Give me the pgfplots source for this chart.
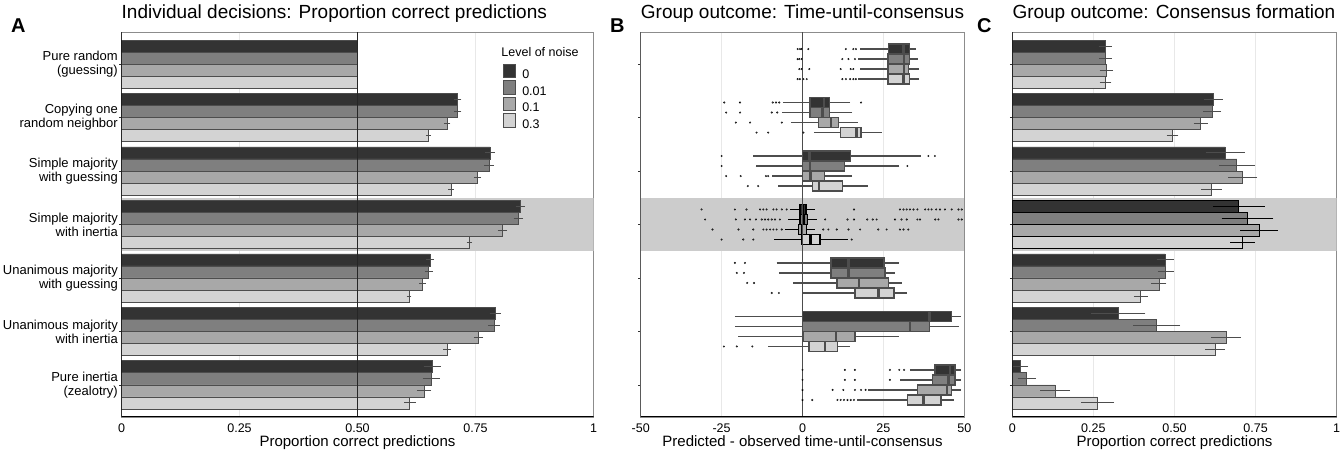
\documentclass[border=0pt]{standalone}
\usepackage{fontspec}
\setmainfont{Liberation Sans}
\usepackage{pgfplots}
\pgfplotsset{compat=1.18}
\usepgfplotslibrary{statistics}

\definecolor{n0}{HTML}{333333}
\definecolor{n1}{HTML}{7F7F7F}
\definecolor{n2}{HTML}{A8A8A8}
\definecolor{n3}{HTML}{D3D3D3}
\definecolor{edge}{HTML}{4D4D4D}
\definecolor{band}{HTML}{CCCCCC}

\pgfplotsset{
  panel/.style={
    scale only axis, height=385pt,
    ymin=0.4, ymax=7.6, ytick={1,...,7},
    axis line style={draw=black!45, line width=0.5pt},
    xmajorgrids, grid style={draw=black!9, line width=0.7pt},
    tick align=outside, major tick length=2.5pt,
    ytick style={black!80, line width=0.6pt}, xtick style={draw=none},
    xtick pos=bottom, ytick pos=left,
    xticklabel style={font=\fontsize{12.5}{14}\selectfont, inner sep=0pt, anchor=base, yshift=-13pt},
    xlabel style={font=\fontsize{15}{17}\selectfont, at={(axis description cs:0.5,0)},
      anchor=base, yshift=-29.5pt, inner sep=0pt},
    title style={font=\fontsize{19}{22}\selectfont, at={(axis description cs:0,1)},
      anchor=base west, yshift=7pt, inner sep=0pt},
  },
  hbar/.style={xbar, bar width=0.225, bar shift=0pt, fill=#1, line width=0.8pt,
    error bars/x dir=both, error bars/x explicit, error bars/error mark=none},
  ebar/.style={error bars/error bar style={#1, line width=1pt}},
}

% horizontal box: position, fill, border, lower whisker, q1, median, q3, upper whisker
\newcommand{\bx}[8]{\addplot[boxplot prepared={draw direction=x, draw position=#1,
    lower whisker=#4, lower quartile=#5, median=#6, upper quartile=#7, upper whisker=#8,
    box extend=0.1875, whisker extend=0}, fill=#2, draw=#3, line width=1.4pt,
    boxplot/every box/.style={line width=1.4pt},
    boxplot/every whisker/.style={line width=1.6pt},
    boxplot/every median/.style={line width=2.6pt}] coordinates {};}

\newcommand{\outl}{\addplot[only marks, mark=*, mark size=0.8pt,
    mark options={draw=none, fill=black!35, fill opacity=0.55}]}

\begin{document}
\begin{tikzpicture}[x=1pt,y=1pt]
\useasboundingbox (0,0) rectangle (1344,452);

\node[font=\bfseries\fontsize{20}{24}\selectfont, anchor=base west, inner sep=0pt] at (11,419) {A};
\node[font=\bfseries\fontsize{20}{24}\selectfont, anchor=base west, inner sep=0pt] at (610,419) {B};
\node[font=\bfseries\fontsize{20}{24}\selectfont, anchor=base west, inner sep=0pt] at (977,419) {C};

% ---------------- A ----------------
\begin{axis}[panel, at={(121.5pt,35pt)}, anchor=south west, width=472pt,
  xmin=0, xmax=1, xtick={0,0.25,0.5,0.75,1}, xticklabels={0,0.25,0.50,0.75,1},
  yticklabels={{Pure inertia\\(zealotry)},{Unanimous majority\\with inertia},
    {Unanimous majority\\with guessing},{Simple majority\\with inertia},
    {Simple majority\\with guessing},{Copying one\\random neighbor},
    {Pure random\\(guessing)}},
  yticklabel style={align=right, inner sep=0pt, xshift=-1pt, font=\fontsize{13}{14}\selectfont},
  title={Individual decisions: Proportion correct predictions},
  xlabel={Proportion correct predictions},
  legend image code/.code={\draw[#1] (0pt,-2.2pt) rectangle (12.3pt,11.1pt);},
  legend style={draw=none, fill=none, at={(0.8076,0.917)}, anchor=north west,
    inner sep=0pt, outer sep=0pt, row sep=0pt, column sep=6.7pt,
    nodes={inner sep=0pt}, font=\fontsize{12.5}{14}\selectfont},
  legend cell align=left]
\addlegendimage{fill=n0, draw=edge, line width=0.6pt}
\addlegendimage{fill=n1, draw=edge, line width=0.6pt}
\addlegendimage{fill=n2, draw=edge, line width=0.6pt}
\addlegendimage{fill=n3, draw=edge, line width=0.6pt}
\legend{0,0.01,0.1,0.3}

\addplot[draw=none, fill=band, forget plot] coordinates {(0,3.5) (1,3.5) (1,4.5) (0,4.5)};

\addplot[hbar=n0, draw=edge, ebar=edge] coordinates {
  (0.500,7.3375) +- (0,0) (0.712,6.3375) +- (0.008,0) (0.781,5.3375) +- (0.010,0)
  (0.845,4.3375) +- (0.010,0) (0.654,3.3375) +- (0.008,0) (0.792,2.3375) +- (0.012,0)
  (0.658,1.3375) +- (0.018,0)};
\addplot[hbar=n1, draw=edge, ebar=edge] coordinates {
  (0.500,7.1125) +- (0,0) (0.712,6.1125) +- (0.008,0) (0.779,5.1125) +- (0.010,0)
  (0.841,4.1125) +- (0.010,0) (0.651,3.1125) +- (0.008,0) (0.789,2.1125) +- (0.012,0)
  (0.656,1.1125) +- (0.018,0)};
\addplot[hbar=n2, draw=edge, ebar=edge] coordinates {
  (0.500,6.8875) +- (0,0) (0.690,5.8875) +- (0.007,0) (0.754,4.8875) +- (0.008,0)
  (0.807,3.8875) +- (0.010,0) (0.638,2.8875) +- (0.007,0) (0.756,1.8875) +- (0.010,0)
  (0.641,0.8875) +- (0.015,0)};
\addplot[hbar=n3, draw=edge, ebar=edge] coordinates {
  (0.500,6.6625) +- (0,0) (0.650,5.6625) +- (0.005,0) (0.698,4.6625) +- (0.006,0)
  (0.737,3.6625) +- (0.006,0) (0.609,2.6625) +- (0.005,0) (0.690,1.6625) +- (0.008,0)
  (0.611,0.6625) +- (0.012,0)};

\addplot[black!85, line width=0.8pt, forget plot] coordinates {(0.5,0.4) (0.5,7.6)};
\node[anchor=west, inner sep=0pt, font=\fontsize{12.5}{14}\selectfont] at (axis description cs:0.8045,0.949) {Level of noise};
\draw[black, line width=1.1pt] (rel axis cs:0,1) -- (rel axis cs:0,0) -- (rel axis cs:1,0);
\end{axis}

% ---------------- B ----------------
\begin{axis}[panel, at={(640.7pt,35pt)}, anchor=south west, width=323.6pt,
  xmin=-50, xmax=50, xtick={-50,-25,0,25,50}, xticklabels={-50,-25,0,25,50},
  yticklabels={},
  title={Group outcome: Time-until-consensus},
  xlabel={Predicted - observed time-until-consensus}]
\addplot[draw=none, fill=band] coordinates {(-50,3.5) (50,3.5) (50,4.5) (-50,4.5)};

% Pure random (guessing)
\outl coordinates {(-1.5,7.28125) (-0.8,7.28125) (-0.3,7.28125) (1.8,7.28125) (13.4,7.28125) (15.7,7.28125) (16.5,7.28125)
  (-1.5,7.09375) (-1.0,7.09375) (-0.3,7.09375) (12.3,7.09375) (14.2,7.09375) (16.2,7.09375)
  (-1.0,6.90625) (-0.3,6.90625) (2.1,6.90625) (11.8,6.90625) (14.9,6.90625) (15.7,6.90625)
  (-1.5,6.71875) (-0.8,6.71875) (0.3,6.71875) (1.3,6.71875) (12.3,6.71875) (13.4,6.71875) (14.7,6.71875) (15.7,6.71875) (16.5,6.71875)};
\bx{7.28125}{n0}{edge}{17.8}{26.6}{31.2}{33.0}{35.1}
\bx{7.09375}{n1}{edge}{17.3}{26.4}{31.4}{33.0}{35.6}
\bx{6.90625}{n2}{edge}{17.8}{26.4}{31.4}{32.7}{36.0}
\bx{6.71875}{n3}{edge}{17.3}{26.4}{31.2}{33.0}{36.0}

% Copying one random neighbor
\outl coordinates {(-24.2,6.28125) (-19.3,6.28125) (-9.2,6.28125) (-8.2,6.28125) (-7.2,6.28125) (18.1,6.28125)
  (-23.6,6.09375) (-19.3,6.09375) (-9.5,6.09375) (-7.8,6.09375)
  (-20.6,5.90625) (-16.2,5.90625) (-6.4,5.90625)
  (-14.2,5.71875) (-10.6,5.71875) (0.3,5.71875)};
\bx{6.28125}{n0}{edge}{-6.1}{2.3}{6.6}{8.3}{14.7}
\bx{6.09375}{n1}{edge}{-6.4}{2.3}{6.2}{8.3}{15.4}
\bx{5.90625}{n2}{edge}{-3.7}{5.0}{8.8}{11.1}{17.1}
\bx{5.71875}{n3}{edge}{3.4}{11.8}{16.7}{18.1}{24.5}

% Simple majority with guessing
\outl coordinates {(-25.0,5.28125) (38.9,5.28125) (40.9,5.28125)
  (-25.0,5.09375) (32.4,5.09375)
  (-23.6,4.90625) (-19.1,4.90625) (-11.3,4.90625) (-10.6,4.90625)
  (-16.9,4.71875) (-13.7,4.71875)};
\bx{5.28125}{n0}{edge}{-15.2}{0}{2.1}{14.9}{36.5}
\bx{5.09375}{n1}{edge}{-14.5}{0}{2.3}{12.9}{29.9}
\bx{4.90625}{n2}{edge}{-9.5}{0}{2.5}{6.8}{15.4}
\bx{4.71875}{n3}{edge}{-7.5}{3.0}{5.1}{12.4}{20.1}

% Simple majority with inertia
\outl coordinates {(-31.2,4.28125) (-20.9,4.28125) (-17.3,4.28125) (-13.1,4.28125) (-12.1,4.28125) (-11.1,4.28125)
  (-9.0,4.28125) (-8.0,4.28125) (-6.4,4.28125) (-4.9,4.28125) (15.9,4.28125) (30.1,4.28125) (31.2,4.28125)
  (32.2,4.28125) (33.2,4.28125) (34.3,4.28125) (35.5,4.28125) (37.9,4.28125) (38.9,4.28125) (39.9,4.28125)
  (41.3,4.28125) (42.5,4.28125) (44.0,4.28125) (46.1,4.28125) (48.2,4.28125) (49.2,4.28125)
  (-30.1,4.09375) (-20.6,4.09375) (-17.8,4.09375) (-16.2,4.09375) (-14.4,4.09375) (-12.6,4.09375)
  (-11.6,4.09375) (-10.6,4.09375) (-9.5,4.09375) (-8.5,4.09375) (-7.0,4.09375) (7.0,4.09375) (13.9,4.09375)
  (15.9,4.09375) (20.0,4.09375) (21.7,4.09375) (22.9,4.09375) (28.6,4.09375) (30.6,4.09375) (32.2,4.09375)
  (35.5,4.09375) (36.3,4.09375) (41.0,4.09375) (42.0,4.09375) (48.2,4.09375) (49.2,4.09375)
  (-27.8,3.90625) (-19.8,3.90625) (-15.2,3.90625) (-12.1,3.90625) (-11.1,3.90625) (-10.0,3.90625)
  (-9.0,3.90625) (-8.0,3.90625) (-6.4,3.90625) (6.4,3.90625) (8.0,3.90625) (10.6,3.90625) (14.2,3.90625)
  (17.8,3.90625) (23.4,3.90625) (26.0,3.90625) (30.1,3.90625) (31.2,3.90625) (32.7,3.90625)
  (-25.0,3.71875) (-18.3,3.71875) (-15.2,3.71875) (15.2,3.71875)};
\bx{4.28125}{n0}{black}{-3.9}{-0.8}{0.1}{1.1}{3.9}
\bx{4.09375}{n1}{black}{-4.4}{-0.8}{0.3}{1.6}{4.4}
\bx{3.90625}{n2}{black}{-5.4}{-1.3}{-0.1}{1.3}{3.9}
\bx{3.71875}{n3}{black}{-8.8}{-0.3}{2.5}{5.4}{14.2}

% Unanimous majority with guessing
\outl coordinates {(-20.9,3.28125) (-17.8,3.28125) (-20.3,3.09375) (-18.1,3.09375)
  (-17.1,2.90625) (-15.0,2.90625) (-9.5,2.71875) (-7.3,2.71875)};
\bx{3.28125}{n0}{edge}{-8.0}{8.8}{14.2}{25.2}{29.9}
\bx{3.09375}{n1}{edge}{-7.3}{8.8}{14.2}{25.5}{28.6}
\bx{2.90625}{n2}{edge}{-3.0}{10.6}{17.5}{26.5}{30.6}
\bx{2.71875}{n3}{edge}{0.1}{16.2}{23.4}{28.3}{32.4}

% Unanimous majority with inertia
\outl coordinates {(-24.3,1.71875) (-20.3,1.71875) (-15.5,1.71875)};
\bx{2.28125}{n0}{edge}{-20.9}{0}{39.2}{46.1}{48.9}
\bx{2.09375}{n1}{edge}{-20.9}{0}{33.2}{39.2}{48.4}
\bx{1.90625}{n2}{edge}{-19.8}{0.3}{10.3}{16.2}{29.8}
\bx{1.71875}{n3}{edge}{-10.6}{2.0}{7.0}{10.8}{14.7}

% Pure inertia (zealotry)
\outl coordinates {(0,1.28125) (13.1,1.28125) (16.2,1.28125) (27.0,1.28125) (29.9,1.28125) (31.4,1.28125)
  (0,1.09375) (13.1,1.09375) (16.2,1.09375) (27.0,1.09375)
  (0,0.90625) (9.3,0.90625) (12.6,0.90625) (16.2,0.90625) (18.1,0.90625) (19.5,0.90625)
  (0,0.71875) (3.0,0.71875) (10.8,0.71875) (11.8,0.71875) (12.8,0.71875) (13.9,0.71875) (14.9,0.71875) (15.9,0.71875)};
\bx{1.28125}{n0}{edge}{33.2}{40.9}{45.6}{47.1}{48.9}
\bx{1.09375}{n1}{edge}{30.1}{40.1}{45.1}{47.1}{48.9}
\bx{0.90625}{n2}{edge}{20.3}{35.5}{44.6}{46.1}{48.9}
\bx{0.71875}{n3}{edge}{16.9}{32.4}{37.3}{42.8}{46.8}

\addplot[black!70, line width=0.8pt] coordinates {(0,0.4) (0,7.6)};
\draw[black, line width=1.1pt] (rel axis cs:0,1) -- (rel axis cs:0,0) -- (rel axis cs:1,0);
\end{axis}

% ---------------- C ----------------
\begin{axis}[panel, at={(1012.3pt,35pt)}, anchor=south west, width=324.4pt,
  xmin=0, xmax=1, xtick={0,0.25,0.5,0.75,1}, xticklabels={0,0.25,0.50,0.75,1},
  yticklabels={},
  title={Group outcome: Consensus formation},
  xlabel={Proportion correct predictions}]
\addplot[draw=none, fill=band] coordinates {(0,3.5) (1,3.5) (1,4.5) (0,4.5)};

\addplot[hbar=n0, draw=edge, ebar=edge] coordinates {
  (0.286,7.3375) +- (0.020,0) (0.620,6.3375) +- (0.029,0) (0.656,5.3375) +- (0.060,0)
  (0.471,3.3375) +- (0.026,0) (0.327,2.3375) +- (0.083,0) (0.024,1.3375) +- (0.025,0)};
\addplot[hbar=n1, draw=edge, ebar=edge] coordinates {
  (0.287,7.1125) +- (0.020,0) (0.616,6.1125) +- (0.028,0) (0.692,5.1125) +- (0.055,0)
  (0.473,3.1125) +- (0.024,0) (0.445,2.1125) +- (0.072,0) (0.044,1.1125) +- (0.028,0)};
\addplot[hbar=n2, draw=edge, ebar=edge] coordinates {
  (0.290,6.8875) +- (0.021,0) (0.581,5.8875) +- (0.022,0) (0.710,4.8875) +- (0.045,0)
  (0.452,2.8875) +- (0.023,0) (0.659,1.8875) +- (0.045,0) (0.132,0.8875) +- (0.046,0)};
\addplot[hbar=n3, draw=edge, ebar=edge] coordinates {
  (0.287,6.6625) +- (0.018,0) (0.494,5.6625) +- (0.018,0) (0.614,4.6625) +- (0.031,0)
  (0.396,2.6625) +- (0.021,0) (0.625,1.6625) +- (0.030,0) (0.263,0.6625) +- (0.051,0)};
% highlighted model
\addplot[hbar=n0, draw=black, ebar=black] coordinates {(0.698,4.3375) +- (0.080,0)};
\addplot[hbar=n1, draw=black, ebar=black] coordinates {(0.725,4.1125) +- (0.080,0)};
\addplot[hbar=n2, draw=black, ebar=black] coordinates {(0.761,3.8875) +- (0.058,0)};
\addplot[hbar=n3, draw=black, ebar=black] coordinates {(0.710,3.6625) +- (0.038,0)};

\draw[black, line width=1.1pt] (rel axis cs:0,1) -- (rel axis cs:0,0) -- (rel axis cs:1,0);
\end{axis}
\end{tikzpicture}
\end{document}
